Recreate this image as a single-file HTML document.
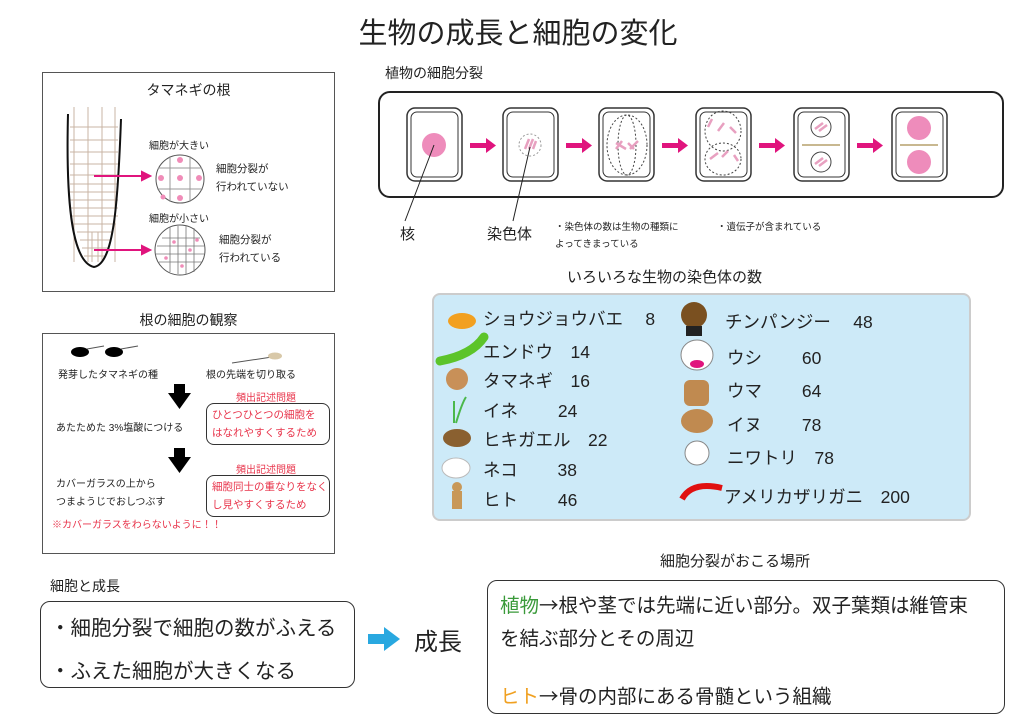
<!DOCTYPE html>
<html><head><meta charset="utf-8"><style>
body{margin:0;width:1024px;height:724px;background:#fff;position:relative;overflow:hidden;font-family:"Liberation Sans","Noto Sans CJK JP",sans-serif;color:#222}
.a{position:absolute;white-space:nowrap}
.box{position:absolute;border:1.5px solid #555;box-sizing:border-box}
.j{font-family:"Noto Sans CJK JP",sans-serif}
</style></head><body>
<div class="a" style="left:0;width:1036px;text-align:center;top:10px;font-size:29px">生物の成長と細胞の変化</div>

<!-- box1 -->
<div class="box" style="left:42px;top:72px;width:293px;height:220px"></div>
<div class="a" style="left:42px;width:293px;text-align:center;top:80px;font-size:14px">タマネギの根</div>
<svg class="a" style="left:42px;top:72px" width="293" height="220">
<g stroke="#c8b4a4" stroke-width="1">
<line x1="32" y1="35" x2="32" y2="190"/><line x1="46" y1="35" x2="46" y2="190"/><line x1="60" y1="35" x2="60" y2="190"/><line x1="73" y1="35" x2="73" y2="190"/>
<line x1="28" y1="55" x2="76" y2="55"/><line x1="28" y1="68" x2="76" y2="68"/><line x1="28" y1="80" x2="76" y2="80"/><line x1="28" y1="92" x2="76" y2="92"/><line x1="28" y1="103" x2="76" y2="103"/><line x1="28" y1="112" x2="76" y2="112"/><line x1="28" y1="120" x2="76" y2="120"/><line x1="28" y1="128" x2="76" y2="128"/><line x1="28" y1="136" x2="76" y2="136"/><line x1="28" y1="144" x2="76" y2="144"/><line x1="30" y1="152" x2="74" y2="152"/><line x1="35" y1="160" x2="70" y2="160"/><line x1="38" y1="168" x2="68" y2="168"/><line x1="40" y1="176" x2="66" y2="176"/><line x1="42" y1="184" x2="62" y2="184"/>
<line x1="50" y1="160" x2="50" y2="190"/><line x1="56" y1="160" x2="56" y2="190"/></g>
<path d="M26 42 C24 120,28 190,52 195 C72 192,76 130,79 47" fill="none" stroke="#111" stroke-width="2"/>
<g stroke="#e0147d" stroke-width="2" fill="#e0147d"><line x1="52" y1="104" x2="100" y2="104"/><polygon points="100,100 108,104 100,108"/><line x1="52" y1="178" x2="100" y2="178"/><polygon points="100,174 108,178 100,182"/></g>
<circle cx="138" cy="107" r="24" fill="#fff" stroke="#555"/>
<g stroke="#999" stroke-width="1"><line x1="116" y1="96" x2="160" y2="96"/><line x1="115" y1="117" x2="161" y2="117"/><line x1="128" y1="84" x2="128" y2="130"/><line x1="148" y1="84" x2="148" y2="130"/></g>
<g fill="#f08cb8"><circle cx="138" cy="106" r="3"/><circle cx="119" cy="106" r="3"/><circle cx="157" cy="106" r="3"/><circle cx="138" cy="88" r="3"/><circle cx="138" cy="126" r="3"/><circle cx="121" cy="125" r="2.5"/></g>
<circle cx="138" cy="178" r="25" fill="#fff" stroke="#555"/>
<g stroke="#777" stroke-width="0.8"><line x1="120" y1="166" x2="158" y2="166"/><line x1="115" y1="174" x2="162" y2="174"/><line x1="114" y1="182" x2="162" y2="182"/><line x1="117" y1="190" x2="160" y2="190"/><line x1="128" y1="155" x2="128" y2="200"/><line x1="136" y1="154" x2="136" y2="202"/><line x1="144" y1="154" x2="144" y2="202"/><line x1="152" y1="156" x2="152" y2="200"/></g>
<g fill="#f08cb8"><circle cx="132" cy="170" r="1.8"/><circle cx="148" cy="178" r="1.8"/><circle cx="124" cy="186" r="1.8"/><circle cx="140" cy="194" r="1.8"/><circle cx="155" cy="168" r="1.8"/></g>
</svg>
<div class="a" style="left:149px;top:137px;font-size:10px">細胞が大きい</div>
<div class="a" style="left:216px;top:160px;font-size:10.5px;line-height:18px">細胞分裂が<br>行われていない</div>
<div class="a" style="left:149px;top:210px;font-size:10px">細胞が小さい</div>
<div class="a" style="left:219px;top:231px;font-size:10.5px;line-height:18px">細胞分裂が<br>行われている</div>

<!-- box2 -->
<div class="a" style="left:42px;width:293px;text-align:center;top:310px;font-size:14px">根の細胞の観察</div>
<div class="box" style="left:42px;top:333px;width:293px;height:221px"></div>
<svg class="a" style="left:42px;top:333px" width="293" height="221">
<ellipse cx="38" cy="19" rx="9" ry="5"/><line x1="45" y1="16" x2="62" y2="13" stroke="#555"/>
<ellipse cx="72" cy="19" rx="9" ry="5"/><line x1="79" y1="16" x2="96" y2="13" stroke="#555"/>
<line x1="190" y1="30" x2="230" y2="24" stroke="#555"/><ellipse cx="233" cy="23" rx="7" ry="3.5" fill="#d8c8a8"/>
<polygon points="132,51 143,51 143,60 149,60 137.5,76 126,60 132,60"/>
<polygon points="132,115 143,115 143,124 149,124 137.5,140 126,124 132,124"/>
</svg>
<div class="a" style="left:58px;top:366px;font-size:10px">発芽したタマネギの種</div>
<div class="a" style="left:206px;top:366px;font-size:10px">根の先端を切り取る</div>
<div class="a" style="left:236px;top:389px;font-size:10px;color:#e8334a">頻出記述問題</div>
<div class="box" style="left:206px;top:403px;width:124px;height:42px;border-radius:8px;border-color:#333"></div>
<div class="a" style="left:212px;top:406px;font-size:10.5px;line-height:18px;color:#e8334a">ひとつひとつの細胞を<br>はなれやすくするため</div>
<div class="a" style="left:56px;top:419px;font-size:10px">あたためた 3%塩酸につける</div>
<div class="a" style="left:236px;top:461px;font-size:10px;color:#e8334a">頻出記述問題</div>
<div class="box" style="left:206px;top:475px;width:124px;height:42px;border-radius:8px;border-color:#333"></div>
<div class="a" style="left:212px;top:478px;font-size:10.5px;line-height:18px;color:#e8334a">細胞同士の重なりをなく<br>し見やすくするため</div>
<div class="a" style="left:56px;top:476px;font-size:10px;line-height:18px">カバーガラスの上から<br>つまようじでおしつぶす</div>
<div class="a" style="left:52px;top:516px;font-size:10px;color:#e8334a">※カバーガラスをわらないように！！</div>

<!-- cell division -->
<div class="a" style="left:385px;top:63px;font-size:14px">植物の細胞分裂</div>
<div class="box" style="left:378px;top:91px;width:626px;height:107px;border-radius:12px;border:2px solid #222"></div>
<svg class="a" style="left:378px;top:91px" width="626" height="150">
<g fill="#fff" stroke="#333" stroke-width="1.5">
<rect x="29" y="17" width="55" height="73" rx="8"/><rect x="125" y="17" width="55" height="73" rx="8"/><rect x="221" y="17" width="55" height="73" rx="8"/><rect x="318" y="17" width="55" height="73" rx="8"/><rect x="416" y="17" width="55" height="73" rx="8"/><rect x="514" y="17" width="55" height="73" rx="8"/></g>
<g fill="none" stroke="#333" stroke-width="1"><rect x="33" y="21" width="47" height="65" rx="6"/><rect x="129" y="21" width="47" height="65" rx="6"/><rect x="225" y="21" width="47" height="65" rx="6"/><rect x="322" y="21" width="47" height="65" rx="6"/><rect x="420" y="21" width="47" height="65" rx="6"/><rect x="518" y="21" width="47" height="65" rx="6"/></g>
<circle cx="56" cy="54" r="12" fill="#ee8cbb"/>
<circle cx="152" cy="54" r="11" fill="none" stroke="#999" stroke-dasharray="2,2"/>
<path d="M147 58l4-10M151 58l4-10M155 58l3-8" stroke="#e8a0c0" stroke-width="2.5"/>
<g fill="none" stroke="#444" stroke-dasharray="2,2"><ellipse cx="249" cy="54" rx="20" ry="30"/><ellipse cx="249" cy="54" rx="9" ry="30"/></g>
<path d="M238 52l10 6M244 50l-6 8M252 58l8-8M256 58l-6-6" stroke="#e8a0c0" stroke-width="2.5"/>
<g fill="none" stroke="#444" stroke-dasharray="2,2"><ellipse cx="345" cy="40" rx="18" ry="20"/><ellipse cx="345" cy="68" rx="18" ry="16"/></g>
<path d="M330 36l4-8M340 40l6-8M352 36l6 6M332 68l8-6M344 66l6-6M356 64l4 6" stroke="#e8a0c0" stroke-width="2.5"/>
<circle cx="443" cy="36" r="10" fill="#fff" stroke="#444"/><circle cx="443" cy="71" r="10" fill="#fff" stroke="#444"/>
<path d="M437 38l8-6M441 40l8-6M437 73l8-6M441 75l8-6" stroke="#e8a0c0" stroke-width="2.5"/>
<line x1="424" y1="54" x2="462" y2="54" stroke="#c8b890" stroke-width="2"/>
<circle cx="541" cy="37" r="12" fill="#ee8cbb"/><circle cx="541" cy="71" r="12" fill="#ee8cbb"/>
<line x1="522" y1="54" x2="560" y2="54" stroke="#c8b890" stroke-width="2"/>
<g fill="#e0147d"><rect x="92" y="52" width="17" height="5"/><polygon points="108,47 118,54.5 108,62"/><rect x="188" y="52" width="17" height="5"/><polygon points="204,47 214,54.5 204,62"/><rect x="284" y="52" width="17" height="5"/><polygon points="300,47 310,54.5 300,62"/><rect x="381" y="52" width="17" height="5"/><polygon points="397,47 407,54.5 397,62"/><rect x="479" y="52" width="17" height="5"/><polygon points="495,47 505,54.5 495,62"/></g>
<line x1="56" y1="54" x2="27" y2="130" stroke="#222"/><line x1="152" y1="56" x2="135" y2="130" stroke="#222"/>
</svg>
<div class="a" style="left:400px;top:223px;font-size:15px">核</div>
<div class="a" style="left:487px;top:223px;font-size:15px">染色体</div>
<div class="a" style="left:555px;top:219px;font-size:9.5px;line-height:17px">・染色体の数は生物の種類に<br>よってきまっている</div>
<div class="a" style="left:717px;top:219px;font-size:9.5px">・遺伝子が含まれている</div>

<!-- chromosomes panel -->
<div class="a" style="left:567px;top:266px;font-size:15px">いろいろな生物の染色体の数</div>
<div class="box" style="left:432px;top:293px;width:539px;height:228px;background:#cdeaf8;border:2px solid #ccc;border-radius:8px"></div>
<svg class="a" style="left:432px;top:293px" width="539" height="228">
<ellipse cx="30" cy="28" rx="14" ry="8" fill="#f2a020"/>
<path d="M8 68 Q40 62 52 44" stroke="#5cc42a" stroke-width="9" fill="none" stroke-linecap="round"/>
<circle cx="25" cy="86" r="11" fill="#c89058"/>
<path d="M22 130 L22 108 M24 130 Q30 110 34 104" stroke="#4bb84b" stroke-width="2" fill="none"/>
<ellipse cx="25" cy="145" rx="14" ry="9" fill="#8a6030"/>
<ellipse cx="24" cy="175" rx="14" ry="10" fill="#fff" stroke="#bbb"/>
<circle cx="25" cy="194" r="5" fill="#c89858"/><rect x="20" y="198" width="10" height="18" fill="#c89858"/>
<circle cx="262" cy="22" r="13" fill="#7a5020"/><rect x="254" y="33" width="16" height="10" fill="#222"/>
<ellipse cx="265" cy="62" rx="16" ry="15" fill="#fff" stroke="#888"/><ellipse cx="265" cy="71" rx="7" ry="4" fill="#e0147d"/>
<rect x="252" y="87" width="25" height="26" rx="6" fill="#c08a50"/>
<ellipse cx="265" cy="128" rx="16" ry="12" fill="#c08a50"/>
<ellipse cx="265" cy="160" rx="12" ry="12" fill="#fff" stroke="#888"/>
<path d="M250 206 Q260 188 290 195" stroke="#e01010" stroke-width="6" fill="none"/>
</svg>
<div class="a" style="left:483px;top:309px;font-size:17.5px;line-height:20px">ショウジョウバエ　 8</div>
<div class="a" style="left:483px;top:339px;font-size:17.5px">エンドウ　14</div>
<div class="a" style="left:483px;top:368px;font-size:17.5px">タマネギ　16</div>
<div class="a" style="left:483px;top:398px;font-size:17.5px">イネ　　 24</div>
<div class="a" style="left:483px;top:427px;font-size:17.5px">ヒキガエル　22</div>
<div class="a" style="left:483px;top:457px;font-size:17.5px">ネコ　　 38</div>
<div class="a" style="left:483px;top:487px;font-size:17.5px">ヒト　　 46</div>
<div class="a" style="left:725px;top:309px;font-size:17.5px">チンパンジー　 48</div>
<div class="a" style="left:727px;top:345px;font-size:17.5px">ウシ　　 60</div>
<div class="a" style="left:727px;top:378px;font-size:17.5px">ウマ　　 64</div>
<div class="a" style="left:727px;top:412px;font-size:17.5px">イヌ　　 78</div>
<div class="a" style="left:727px;top:445px;font-size:17.5px">ニワトリ　78</div>
<div class="a" style="left:724px;top:484px;font-size:17.5px">アメリカザリガニ　200</div>

<!-- bottom -->
<div class="a" style="left:50px;top:576px;font-size:14px">細胞と成長</div>
<div class="box" style="left:40px;top:601px;width:315px;height:87px;border-radius:10px;border-color:#333"></div>
<div class="a" style="left:50px;top:611px;font-size:20.5px">・細胞分裂で細胞の数がふえる</div>
<div class="a" style="left:50px;top:654px;font-size:20.5px">・ふえた細胞が大きくなる</div>
<svg class="a" style="left:368px;top:627px" width="36" height="24"><rect x="0" y="7" width="18" height="10" fill="#29a8e0"/><polygon points="16,0 32,12 16,24" fill="#29a8e0"/></svg>
<div class="a" style="left:414px;top:622px;font-size:24px">成長</div>
<div class="a" style="left:660px;top:550px;font-size:15px">細胞分裂がおこる場所</div>
<div class="box" style="left:487px;top:580px;width:518px;height:134px;border-radius:10px;border-color:#333"></div>
<div class="a" style="left:500px;top:589px;font-size:19.5px"><span style="color:#3a9a3a">植物</span><span class="j">→</span>根や茎では先端に近い部分。双子葉類は維管束</div>
<div class="a" style="left:500px;top:622px;font-size:19.5px">を結ぶ部分とその周辺</div>
<div class="a" style="left:500px;top:680px;font-size:19.5px"><span style="color:#f0a020">ヒト</span><span class="j">→</span>骨の内部にある骨髄という組織</div>
</body></html>
